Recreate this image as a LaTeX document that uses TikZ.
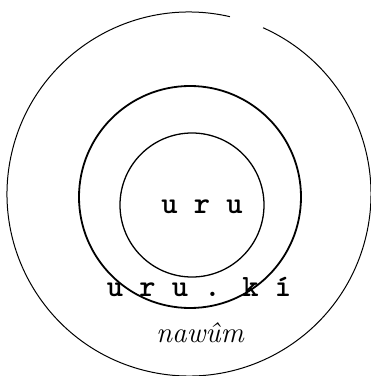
\documentclass[tikz,border=0pt]{standalone}
\usepackage{fontspec}
\usepackage{tikz}
\usetikzlibrary{shapes.geometric, positioning, calc}

\begin{document}
\begin{tikzpicture}[
  x=1pt, y=1pt,
  ring/.style={circle, draw, inner sep=0pt},
  typed/.style={font=\ttfamily\bfseries\fontsize{31}{33}\selectfont, inner sep=0pt},
  hand/.style={font=\itshape\fontsize{29}{30}\selectfont, inner sep=0pt}
]
\useasboundingbox (0,0) rectangle (371,376);

% circles
\node (city)  [ring, line width=1.3pt, minimum size=144pt] at (192,171) {};
\node (land)  [ring, line width=1.8pt, minimum size=222pt] at (190,179) {};
\coordinate (mid) at (189,182);
\draw[line width=1pt] ($(mid)+(77:182)$) arc[start angle=77, end angle=426, radius=182];

% labels
\node (uru)   [typed] at (202,169) {u r u};
\node (uruki) [typed] at (199,89)  {u r u . k í};
\node (nawum) [hand]  at (200,43)  {nawûm};

\end{tikzpicture}
\end{document}
